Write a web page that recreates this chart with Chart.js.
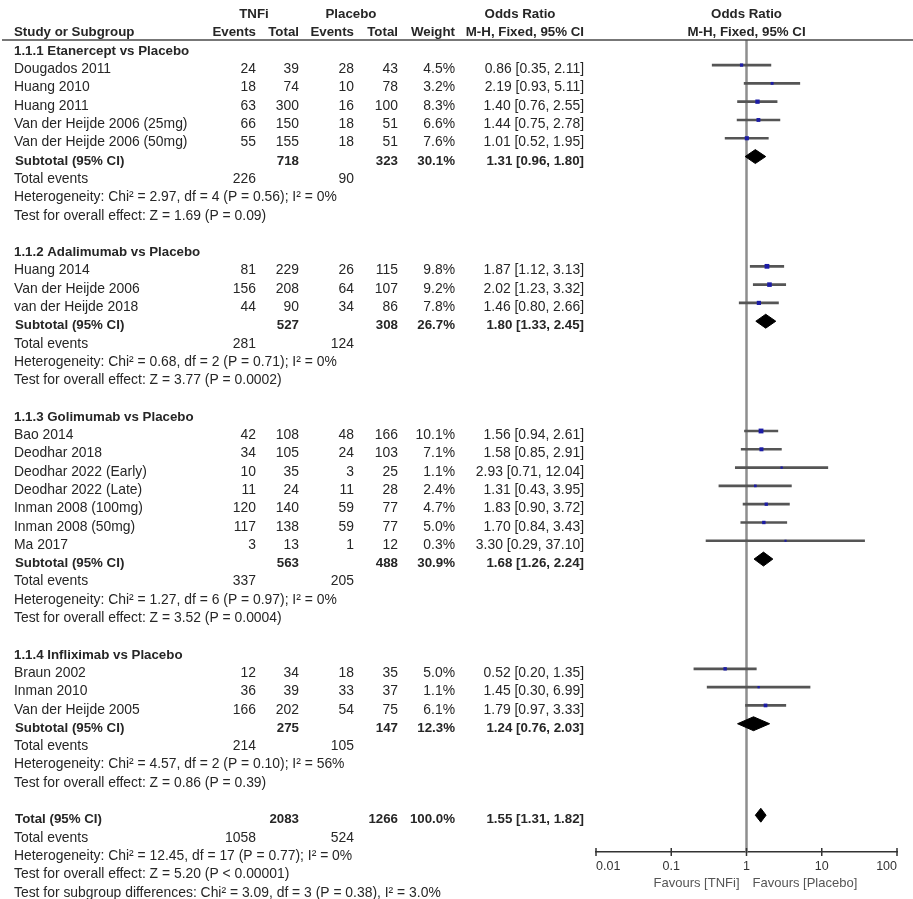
<!DOCTYPE html>
<html>
<head>
<meta charset="utf-8">
<title>TNFi vs Placebo - forest plot</title>
<script src="https://cdn.jsdelivr.net/npm/chart.js@4.4.1/dist/chart.umd.min.js"></script>
<style>
  html, body { margin: 0; padding: 0; background: #fff; }
  canvas { display: block; }
</style>
</head>
<body>
<canvas id="forest" width="913" height="899"></canvas>
<script>
// subgroups
const groupNames = ['1.1.1 Etanercept vs Placebo', '1.1.2 Adalimumab vs Placebo', '1.1.3 Golimumab vs Placebo', '1.1.4 Infliximab vs Placebo'];

// studies
const studyNames = [
  'Dougados 2011', 'Huang 2010', 'Huang 2011', 'Van der Heijde 2006 (25mg)', 'Van der Heijde 2006 (50mg)',
  'Huang 2014', 'Van der Heijde 2006', 'van der Heijde 2018',
  'Bao 2014', 'Deodhar 2018', 'Deodhar 2022 (Early)', 'Deodhar 2022 (Late)', 'Inman 2008 (100mg)', 'Inman 2008 (50mg)', 'Ma 2017',
  'Braun 2002', 'Inman 2010', 'Van der Heijde 2005'
];
const studyGroup = [0, 0, 0, 0, 0, 1, 1, 1, 2, 2, 2, 2, 2, 2, 2, 3, 3, 3];
const tnfiEvents = [24, 18, 63, 66, 55, 81, 156, 44, 42, 34, 10, 11, 120, 117, 3, 12, 36, 166];
const tnfiTotals = [39, 74, 300, 150, 155, 229, 208, 90, 108, 105, 35, 24, 140, 138, 13, 34, 39, 202];
const pboEvents = [28, 10, 16, 18, 18, 26, 64, 34, 48, 24, 3, 11, 59, 59, 1, 18, 33, 54];
const pboTotals = [43, 78, 100, 51, 51, 115, 107, 86, 166, 103, 25, 28, 77, 77, 12, 35, 37, 75];
const weights = [4.5, 3.2, 8.3, 6.6, 7.6, 9.8, 9.2, 7.8, 10.1, 7.1, 1.1, 2.4, 4.7, 5.0, 0.3, 5.0, 1.1, 6.1];
const orEst = [0.86, 2.19, 1.40, 1.44, 1.01, 1.87, 2.02, 1.46, 1.56, 1.58, 2.93, 1.31, 1.83, 1.70, 3.30, 0.52, 1.45, 1.79];
const orLow = [0.35, 0.93, 0.76, 0.75, 0.52, 1.12, 1.23, 0.80, 0.94, 0.85, 0.71, 0.43, 0.90, 0.84, 0.29, 0.20, 0.30, 0.97];
const orHigh = [2.11, 5.11, 2.55, 2.78, 1.95, 3.13, 3.32, 2.66, 2.61, 2.91, 12.04, 3.95, 3.72, 3.43, 37.10, 1.35, 6.99, 3.33];

// subtotals per subgroup
const subTnfiTotals = [718, 527, 563, 275];
const subPboTotals = [323, 308, 488, 147];
const subTnfiEvents = [226, 281, 337, 214];
const subPboEvents = [90, 124, 205, 105];
const subWeights = [30.1, 26.7, 30.9, 12.3];
const subEst = [1.31, 1.80, 1.68, 1.24];
const subLow = [0.96, 1.33, 1.26, 0.76];
const subHigh = [1.80, 2.45, 2.24, 2.03];
const subHetero = [
  'Heterogeneity: Chi² = 2.97, df = 4 (P = 0.56); I² = 0%',
  'Heterogeneity: Chi² = 0.68, df = 2 (P = 0.71); I² = 0%',
  'Heterogeneity: Chi² = 1.27, df = 6 (P = 0.97); I² = 0%',
  'Heterogeneity: Chi² = 4.57, df = 2 (P = 0.10); I² = 56%'
];
const subTest = [
  'Test for overall effect: Z = 1.69 (P = 0.09)',
  'Test for overall effect: Z = 3.77 (P = 0.0002)',
  'Test for overall effect: Z = 3.52 (P = 0.0004)',
  'Test for overall effect: Z = 0.86 (P = 0.39)'
];

// overall total: [TNFi, Placebo]
const totalN = [2083, 1266];
const totalEvents = [1058, 524];
const totalOR = [1.55, 1.31, 1.82]; // est, low, high
const totalWeight = 100.0;
const totalNotes = [
  'Heterogeneity: Chi² = 12.45, df = 17 (P = 0.77); I² = 0%',
  'Test for overall effect: Z = 5.20 (P < 0.00001)',
  'Test for subgroup differences: Chi² = 3.09, df = 3 (P = 0.38), I² = 3.0%'
];

// axis
const tickValues = [0.01, 0.1, 1, 10, 100];
const tickLabels = ['0.01', '0.1', '1', '10', '100'];

// ---- row layout (one row per table line) ----
let row = 0;
const groupRows = [], studyRows = [], subRows = [];
groupNames.forEach((g, gi) => {
  groupRows.push(row); row++;
  studyGroup.forEach((sg, i) => {
    if (sg === gi) { studyRows[i] = row; row++; }
  });
  subRows.push(row);
  row += 5; // subtotal, total events, heterogeneity, test, blank
});
const totalRow = row;

const FONT = '"Liberation Sans", Arial, sans-serif';
Chart.defaults.font.family = FONT;

const fmtOR = (e, l, h) => e.toFixed(2) + ' [' + l.toFixed(2) + ', ' + h.toFixed(2) + ']';
const diamond = (e, l, h, r) => [
  { x: l, y: r }, { x: e, y: r - 0.38 }, { x: h, y: r }, { x: e, y: r + 0.38 }, { x: l, y: r }
];

const datasets = [];

// studies: squares
datasets.push({
  type: 'scatter',
  data: orEst.map((v, i) => ({ x: v, y: studyRows[i] })),
  pointStyle: 'rect',
  pointRadius: weights.map(w => (2 + w * 0.28) / 1.414),
  backgroundColor: '#1c1ca6',
  borderWidth: 0,
  order: 0
});

// study CIs as floating bars
datasets.push({
  type: 'bar',
  indexAxis: 'y',
  data: orLow.map((l, i) => ({ x: [l, orHigh[i]], y: studyRows[i] })),
  barThickness: 2,
  backgroundColor: '#555',
  order: 2
});

// subtotal + total diamonds
subEst.forEach((e, gi) => {
  datasets.push({
    type: 'scatter',
    data: diamond(e, subLow[gi], subHigh[gi], subRows[gi]),
    showLine: true,
    fill: 'shape',
    borderColor: '#000',
    backgroundColor: '#000',
    borderWidth: 1,
    pointRadius: 0,
    order: 1
  });
});
datasets.push({
  type: 'scatter',
  data: diamond(totalOR[0], totalOR[1], totalOR[2], totalRow),
  showLine: true,
  fill: 'shape',
  borderColor: '#000',
  backgroundColor: '#000',
  borderWidth: 1,
  pointRadius: 0,
  order: 1
});

// line of no effect
const yMin = -0.37, yMax = totalRow + 2.01;
datasets.push({
  type: 'scatter',
  data: [{ x: 1, y: yMin }, { x: 1, y: yMax }],
  showLine: true,
  borderColor: '#8e8e8e',
  borderWidth: 2.5,
  pointRadius: 0,
  order: 3
});

// text table, header line and axis ticks
const tablePlugin = {
  id: 'forestTable',
  afterDraw(chart) {
    const { ctx, chartArea } = chart;
    const xs = chart.scales.x, ys = chart.scales.y;
    const ty = r => ys.getPixelForValue(r) + 4.3;
    const col = { name: 14, te: 256, tt: 299, pe: 354, pt: 398, w: 455, or: 584 };

    const txt = (s, x, r, align, bold) => {
      ctx.font = bold ? 'bold 13.3px ' + FONT : '13.9px ' + FONT;
      ctx.textAlign = align || 'left';
      ctx.fillText(s, x, ty(r));
    };

    ctx.save();
    ctx.fillStyle = '#262626';
    ctx.textBaseline = 'middle';

    // headers
    txt('TNFi', 254, -2, 'center', true);
    txt('Placebo', 351, -2, 'center', true);
    txt('Odds Ratio', 520, -2, 'center', true);
    txt('Odds Ratio', xs.getPixelForValue(1), -2, 'center', true);
    txt('Study or Subgroup', col.name, -1, 'left', true);
    txt('Events', col.te, -1, 'right', true);
    txt('Total', col.tt, -1, 'right', true);
    txt('Events', col.pe, -1, 'right', true);
    txt('Total', col.pt, -1, 'right', true);
    txt('Weight', col.w, -1, 'right', true);
    txt('M-H, Fixed, 95% CI', col.or, -1, 'right', true);
    txt('M-H, Fixed, 95% CI', xs.getPixelForValue(1), -1, 'center', true);

    groupNames.forEach((g, gi) => {
      txt(g, col.name, groupRows[gi], 'left', true);
      const sr = subRows[gi];
      txt('Subtotal (95% CI)', col.name + 1, sr, 'left', true);
      txt(String(subTnfiTotals[gi]), col.tt, sr, 'right', true);
      txt(String(subPboTotals[gi]), col.pt, sr, 'right', true);
      txt(subWeights[gi].toFixed(1) + '%', col.w, sr, 'right', true);
      txt(fmtOR(subEst[gi], subLow[gi], subHigh[gi]), col.or, sr, 'right', true);
      txt('Total events', col.name, sr + 1);
      txt(String(subTnfiEvents[gi]), col.te, sr + 1, 'right');
      txt(String(subPboEvents[gi]), col.pe, sr + 1, 'right');
      txt(subHetero[gi], col.name, sr + 2);
      txt(subTest[gi], col.name, sr + 3);
    });

    studyNames.forEach((s, i) => {
      const r = studyRows[i];
      txt(s, col.name, r);
      txt(String(tnfiEvents[i]), col.te, r, 'right');
      txt(String(tnfiTotals[i]), col.tt, r, 'right');
      txt(String(pboEvents[i]), col.pe, r, 'right');
      txt(String(pboTotals[i]), col.pt, r, 'right');
      txt(weights[i].toFixed(1) + '%', col.w, r, 'right');
      txt(fmtOR(orEst[i], orLow[i], orHigh[i]), col.or, r, 'right');
    });

    txt('Total (95% CI)', col.name + 1, totalRow, 'left', true);
    txt(String(totalN[0]), col.tt, totalRow, 'right', true);
    txt(String(totalN[1]), col.pt, totalRow, 'right', true);
    txt(totalWeight.toFixed(1) + '%', col.w, totalRow, 'right', true);
    txt(fmtOR(totalOR[0], totalOR[1], totalOR[2]), col.or, totalRow, 'right', true);
    txt('Total events', col.name, totalRow + 1);
    txt(String(totalEvents[0]), col.te, totalRow + 1, 'right');
    txt(String(totalEvents[1]), col.pe, totalRow + 1, 'right');
    totalNotes.forEach((s, k) => txt(s, col.name, totalRow + 2 + k));

    // header rule
    ctx.strokeStyle = '#4a4a4a';
    ctx.lineWidth = 1.5;
    ctx.beginPath();
    ctx.moveTo(2, chartArea.top);
    ctx.lineTo(chart.width, chartArea.top);
    ctx.stroke();

    // tick marks across the axis
    ctx.strokeStyle = '#333';
    tickValues.forEach(v => {
      const px = xs.getPixelForValue(v);
      ctx.beginPath();
      ctx.moveTo(px, chartArea.bottom - 4);
      ctx.lineTo(px, chartArea.bottom + 4);
      ctx.stroke();
    });

    // favours labels
    const one = xs.getPixelForValue(1);
    ctx.fillStyle = '#555';
    ctx.font = '13px ' + FONT;
    ctx.textAlign = 'right';
    ctx.fillText('Favours [TNFi]', one - 7, chartArea.bottom + 31);
    ctx.textAlign = 'left';
    ctx.fillText('Favours [Placebo]', one + 6, chartArea.bottom + 31);
    ctx.restore();
  }
};

new Chart(document.getElementById('forest'), {
  type: 'scatter',
  data: { datasets },
  options: {
    responsive: false,
    animation: false,
    events: [],
    layout: { padding: { left: 596, right: 16, top: 40, bottom: 0 } },
    plugins: { legend: { display: false }, tooltip: { enabled: false } },
    scales: {
      x: {
        type: 'logarithmic',
        min: 0.01,
        max: 100,
        offset: false,
        afterFit(scale) { scale.height = 47; },
        afterBuildTicks(scale) { scale.ticks = tickValues.map(v => ({ value: v })); },
        ticks: {
          align: 'inner',
          autoSkip: false,
          maxRotation: 0,
          padding: 3,
          color: '#333',
          font: { size: 12.5 },
          callback: (v, i) => tickLabels[i]
        },
        grid: { display: false, drawTicks: true, tickLength: 4 },
        border: { display: true, color: '#333', width: 1.5 }
      },
      y: {
        type: 'linear',
        min: yMin,
        max: yMax,
        reverse: true,
        offset: false,
        display: false
      }
    }
  },
  plugins: [tablePlugin]
});
</script>
</body>
</html>
